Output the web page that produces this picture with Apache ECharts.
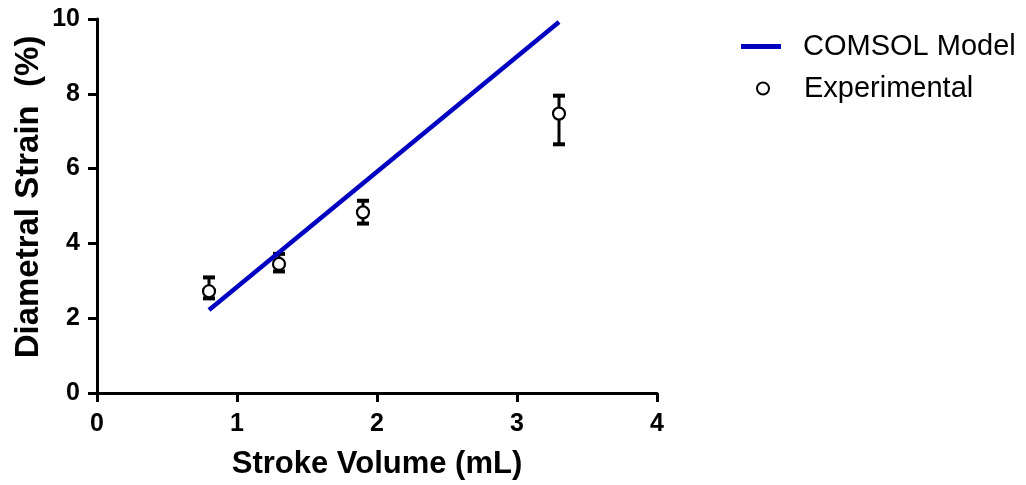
<!DOCTYPE html>
<html>
<head>
<meta charset="utf-8">
<script src="https://cdn.jsdelivr.net/npm/echarts@6/dist/echarts.min.js"></script>
<style>
  html, body { margin: 0; padding: 0; background: #fff; }
  #chart { width: 1026px; height: 485px; }
</style>
</head>
<body>
<div id="chart"></div>
<script>
// Experimental measurements: mean strain with lower / upper error bounds
const strokeVolume = [0.8, 1.3, 1.9, 3.3];
const strainMean   = [2.72, 3.45, 4.83, 7.47];
const strainLow    = [2.53, 3.25, 4.53, 6.65];
const strainHigh   = [3.09, 3.72, 5.14, 7.95];

// COMSOL model prediction (straight line)
const modelVolume = [0.8, 3.3];
const modelStrain = [2.22, 9.92];

// Axis ticks
const xTicks = [0, 1, 2, 3, 4];
const yTicks = [0, 2, 4, 6, 8, 10];

const FONT = "'Liberation Sans', Arial, sans-serif";

const chart = echarts.init(document.getElementById('chart'), null, { renderer: 'canvas' });

const axisCommon = {
  axisLine: { show: true, lineStyle: { color: '#000', width: 3 } },
  axisTick: { show: true, inside: false, length: 9, lineStyle: { color: '#000', width: 3 } },
  splitLine: { show: false },
  axisLabel: { color: '#000', fontFamily: FONT, fontWeight: 'bold', fontSize: 25 }
};

chart.setOption({
  animation: false,
  backgroundColor: '#fff',
  grid: { left: 97, right: 369, top: 19, bottom: 92, containLabel: false },
  legend: [
    {
      data: ['COMSOL Model'],
      left: 741, top: 32, padding: 0,
      icon: 'rect', itemWidth: 40, itemHeight: 5,
      textStyle: { color: '#000', fontFamily: FONT, fontSize: 29, padding: [0, 0, 0, 17] }
    },
    {
      data: ['Experimental'],
      left: 756, top: 74, padding: 0,
      icon: 'circle', itemWidth: 12, itemHeight: 12,
      textStyle: { color: '#000', fontFamily: FONT, fontSize: 29, padding: [0, 0, 0, 30] }
    }
  ],
  xAxis: Object.assign({}, axisCommon, {
    type: 'value',
    min: xTicks[0], max: xTicks[xTicks.length - 1], interval: xTicks[1] - xTicks[0],
    name: 'Stroke Volume (mL)', nameLocation: 'middle', nameGap: 56, nameMoveOverlap: false,
    nameTextStyle: { color: '#000', fontFamily: FONT, fontWeight: 'bold', fontSize: 31 },
    axisLabel: Object.assign({}, axisCommon.axisLabel, { margin: 19 })
  }),
  yAxis: Object.assign({}, axisCommon, {
    type: 'value',
    min: yTicks[0], max: yTicks[yTicks.length - 1], interval: yTicks[1] - yTicks[0],
    name: 'Diametral Strain  (%)', nameLocation: 'middle', nameGap: 52, nameRotate: 90, nameMoveOverlap: false,
    nameTextStyle: { color: '#000', fontFamily: FONT, fontWeight: 'bold', fontSize: 33, padding: [0, 0, 0, 18] },
    axisLabel: Object.assign({}, axisCommon.axisLabel, { margin: 17 })
  }),
  series: [
    {
      name: 'Error',
      type: 'custom',
      z: 2,
      silent: true,
      data: strokeVolume.map((x, i) => [x, strainLow[i], strainHigh[i]]),
      renderItem: function (params, api) {
        const x = api.value(0);
        const lo = api.coord([x, api.value(1)]);
        const hi = api.coord([x, api.value(2)]);
        const hw = 6;
        const stem = { stroke: '#000', lineWidth: 3 };
        const cap = { stroke: '#000', lineWidth: 4 };
        return {
          type: 'group',
          children: [
            { type: 'line', shape: { x1: lo[0], y1: lo[1], x2: hi[0], y2: hi[1] }, style: stem },
            { type: 'line', shape: { x1: lo[0] - hw, y1: lo[1], x2: lo[0] + hw, y2: lo[1] }, style: cap },
            { type: 'line', shape: { x1: hi[0] - hw, y1: hi[1], x2: hi[0] + hw, y2: hi[1] }, style: cap }
          ]
        };
      }
    },
    {
      name: 'Experimental',
      type: 'scatter',
      z: 3,
      symbol: 'circle',
      symbolSize: 12,
      itemStyle: { color: '#fff', borderColor: '#000', borderWidth: 2.2, opacity: 1 },
      data: strokeVolume.map((x, i) => [x, strainMean[i]])
    },
    {
      name: 'COMSOL Model',
      type: 'line',
      z: 4,
      symbol: 'none',
      itemStyle: { color: '#0000c0' },
      lineStyle: { color: '#0000c0', width: 4.5 },
      data: modelVolume.map((x, i) => [x, modelStrain[i]])
    }
  ]
});
</script>
</body>
</html>
